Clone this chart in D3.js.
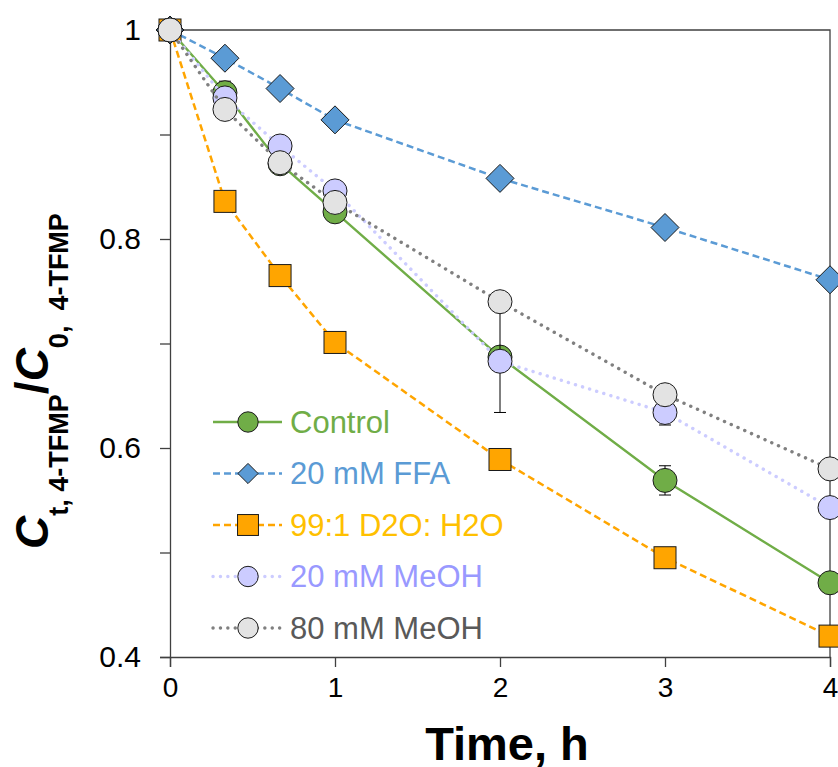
<!DOCTYPE html>
<html>
<head>
<meta charset="utf-8">
<script src="https://cdn.jsdelivr.net/npm/d3@7"></script>
<style>
  body { margin: 0; background: #fff; }
  svg { display: block; font-family: "Liberation Sans", Arial, sans-serif; }
</style>
</head>
<body>
<svg width="838" height="767"></svg>
<script>
// data
var times = [0, 0.333, 0.667, 1, 2, 3, 4];
var control = [1, 0.940, 0.872, 0.826, 0.687, 0.569, 0.471];
var ffa = [1, 0.973, 0.944, 0.914, 0.858, 0.811, 0.761];
var d2o = [1, 0.836, 0.765, 0.701, 0.589, 0.495, 0.420];
var meoh20 = [1, 0.935, 0.889, 0.846, 0.683, 0.634, 0.543];
var meoh80 = [1, 0.924, 0.873, 0.835, 0.740, 0.651, 0.580];
var controlErr = [0, 0.011, 0, 0, 0, 0.014, 0];
var meoh20Err = [0, 0, 0, 0, 0.049, 0.012, 0];
var noErr = [0, 0, 0, 0, 0, 0, 0];
var xTicks = [0, 1, 2, 3, 4];
var yTicks = [0.4, 0.5, 0.6, 0.7, 0.8, 0.9, 1];
var yLabels = [0.4, 0.6, 0.8, 1];

var series = [
  {name: "Control", values: control, err: controlErr, line: "#70AD47", fill: "#70AD47", text: "#70AD47", shape: "circle", dash: null, w: 2.4},
  {name: "20 mM FFA", values: ffa, err: noErr, line: "#5B9BD5", fill: "#5B9BD5", text: "#5B9BD5", shape: "diamond", dash: "7,4", w: 2.5},
  {name: "99:1 D2O: H2O", values: d2o, err: noErr, line: "#FFA500", fill: "#FFA500", text: "#FFC000", shape: "square", dash: "7,4", w: 2.5},
  {name: "20 mM MeOH", values: meoh20, err: meoh20Err, line: "#CCCCFF", fill: "#CCCCFF", text: "#9999FF", shape: "circle", dash: "dot", w: 3.4},
  {name: "80 mM MeOH", values: meoh80, err: noErr, line: "#808080", fill: "#E3E3E3", text: "#595959", shape: "circle", dash: "dot", w: 3.4}
];

var svg = d3.select("svg");
var x = d3.scaleLinear().domain([0, 4]).range([170, 830]);
var y = d3.scaleLinear().domain([0.4, 1]).range([657, 30]);

// frame top/right
svg.append("path")
  .attr("d", "M" + x(0) + "," + y(1) + "H" + x(4) + "V" + y(0.4))
  .attr("fill", "none").attr("stroke", "#404040").attr("stroke-width", 1.3);

var xAxis = svg.append("g").attr("transform", "translate(0," + y(0.4) + ")")
  .call(d3.axisBottom(x).tickValues(xTicks).tickSize(10).tickPadding(10).tickFormat(d3.format("d")));
var yAxis = svg.append("g").attr("transform", "translate(" + x(0) + ",0)")
  .call(d3.axisLeft(y).tickValues(yTicks).tickSize(10).tickPadding(19)
    .tickFormat(function(d) { return yLabels.some(function(v) { return Math.abs(v - d) < 1e-9; }) ? d3.format("")(+d.toFixed(1)) : ""; }));
[xAxis, yAxis].forEach(function(a) {
  a.select(".domain").attr("stroke", "#404040").attr("stroke-width", 1.3);
  a.selectAll(".tick line").attr("stroke", "#404040").attr("stroke-width", 1.3);
  a.selectAll("text").attr("fill", "#000")
    .attr("font-family", "'Liberation Sans', Arial, sans-serif");
});
xAxis.selectAll("text").attr("font-size", 28);
yAxis.selectAll("text").attr("font-size", 30);

function drawMarker(g, shape, fill, cx, cy, scale) {
  scale = scale || 1;
  if (shape === "diamond") {
    var h = 14 * scale;
    g.append("path").attr("d", "M" + cx + "," + (cy - h) + "L" + (cx + h) + "," + cy + "L" + cx + "," + (cy + h) + "L" + (cx - h) + "," + cy + "Z")
      .attr("fill", fill).attr("stroke", "#1a1a1a").attr("stroke-width", 1);
  } else if (shape === "square") {
    var s = 11 * scale;
    g.append("rect").attr("x", cx - s).attr("y", cy - s).attr("width", 2 * s).attr("height", 2 * s)
      .attr("fill", fill).attr("stroke", "#1a1a1a").attr("stroke-width", 1);
  } else {
    g.append("circle").attr("cx", cx).attr("cy", cy).attr("r", 12 * scale)
      .attr("fill", fill).attr("stroke", "#1a1a1a").attr("stroke-width", 1);
  }
}
function styleLine(sel, s) {
  sel.attr("fill", "none").attr("stroke", s.line).attr("stroke-width", s.w);
  if (s.dash === "dot") sel.attr("stroke-dasharray", "0.1,7.3").attr("stroke-linecap", "round");
  else if (s.dash) sel.attr("stroke-dasharray", s.dash);
}

var line = d3.line().x(function(d) { return x(d[0]); }).y(function(d) { return y(d[1]); });

series.forEach(function(s) {
  var g = svg.append("g");
  var pts = times.map(function(t, i) { return [t, s.values[i], s.err[i]]; });
  styleLine(g.append("path").attr("d", line(pts)), s);
  // error bars
  pts.filter(function(p) { return p[2] > 0; }).forEach(function(p) {
    var cx = x(p[0]), y1 = y(p[1] + p[2]), y2 = y(p[1] - p[2]);
    g.append("path").attr("d", "M" + cx + "," + y1 + "V" + y2 + "M" + (cx - 6) + "," + y1 + "H" + (cx + 6) + "M" + (cx - 6) + "," + y2 + "H" + (cx + 6))
      .attr("stroke", "#000").attr("stroke-width", 1).attr("fill", "none");
  });
  pts.forEach(function(p) { drawMarker(g, s.shape, s.fill, x(p[0]), y(p[1])); });
});

// legend
var legend = svg.append("g");
series.forEach(function(s, i) {
  var ly = 422 + i * 51.5;
  styleLine(legend.append("line").attr("x1", 213).attr("x2", 282).attr("y1", ly).attr("y2", ly), s);
  drawMarker(legend, s.shape, s.fill, 248, ly, s.shape === "diamond" ? 0.72 : (s.shape === "square" ? 0.95 : 0.85));
  legend.append("text").attr("x", 290).attr("y", ly).attr("dy", "0.35em")
    .attr("font-size", 31).attr("fill", s.text).text(s.name);
});

// axis titles
svg.append("text").attr("x", 507).attr("y", 760).attr("text-anchor", "middle")
  .attr("font-size", 47).attr("font-weight", "bold").text("Time, h");

var yt = svg.append("text").attr("transform", "translate(48,381) rotate(-90)")
  .attr("text-anchor", "middle").attr("font-weight", "bold").attr("font-size", 46);
yt.append("tspan").attr("font-style", "italic").text("C");
yt.append("tspan").attr("font-size", 27).attr("dy", 20).text("t, 4-TFMP");
yt.append("tspan").attr("dy", -20).text("/");
yt.append("tspan").attr("font-style", "italic").text("C");
yt.append("tspan").attr("font-size", 27).attr("dy", 20).attr("xml:space", "preserve").text("0,  4-TFMP");
</script>
</body>
</html>
